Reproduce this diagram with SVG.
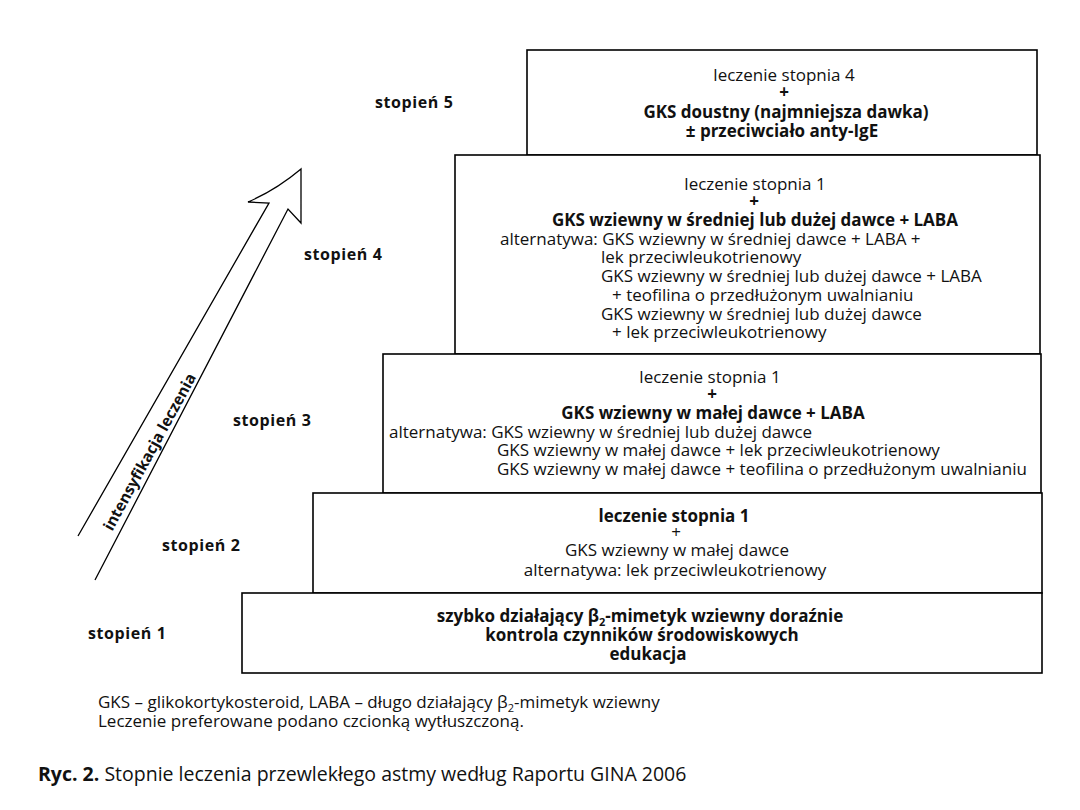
<svg xmlns="http://www.w3.org/2000/svg" width="1080" height="810" viewBox="0 0 1080 810">
<style>
text{font-family:"Open Sans","Noto Sans","DejaVu Sans",sans-serif;font-size:17px;fill:#111}
.b{font-weight:700}
.c{text-anchor:middle}
.lbl{font-weight:700;font-size:16px;letter-spacing:0.6px}
.box{fill:#fff;stroke:#000;stroke-width:1.6}
.arrow{fill:none;stroke:#000;stroke-width:1.3;stroke-linejoin:miter}
.sub{font-size:11px}
</style>
<rect width="1080" height="810" fill="#fff"/>

<g id="connectors">
  <path class="arrow" d="M78,536 L269,203 L248,202 Q276,190 301,169 L301,223 L288,209 L95,580"/>
  <text class="b" transform="translate(150,452) rotate(-61.4)" text-anchor="middle" dy="5" style="font-size:15.5px">intensyfikacja leczenia</text>
</g>

<g id="step5">
  <rect class="box" x="527" y="50" width="510" height="105"/>
  <text class="c" x="784" y="81">leczenie stopnia 4</text>
  <text class="c b" x="784" y="98">+</text>
  <text class="c b" x="786" y="118">GKS doustny (najmniejsza dawka)</text>
  <text class="c b" x="782" y="137">± przeciwciało anty-IgE</text>
  <text class="lbl" x="375" y="108">stopień 5</text>
</g>

<g id="step4">
  <rect class="box" x="455" y="155" width="585" height="199"/>
  <text class="c" x="755" y="190">leczenie stopnia 1</text>
  <text class="c b" x="754" y="207">+</text>
  <text class="c b" x="755" y="226">GKS wziewny w średniej lub dużej dawce + LABA</text>
  <text x="500" y="245">alternatywa: GKS wziewny w średniej dawce + LABA +</text>
  <text x="601" y="263">lek przeciwleukotrienowy</text>
  <text x="601" y="282">GKS wziewny w średniej lub dużej dawce + LABA</text>
  <text x="612" y="301">+ teofilina o przedłużonym uwalnianiu</text>
  <text x="601" y="320">GKS wziewny w średniej lub dużej dawce</text>
  <text x="612" y="338">+ lek przeciwleukotrienowy</text>
  <text class="lbl" x="304" y="260">stopień 4</text>
</g>

<g id="step3">
  <rect class="box" x="383" y="354" width="658" height="139"/>
  <text class="c" x="710" y="383">leczenie stopnia 1</text>
  <text class="c b" x="712" y="400">+</text>
  <text class="c b" x="713" y="419">GKS wziewny w małej dawce + LABA</text>
  <text x="389" y="438">alternatywa: GKS wziewny w średniej lub dużej dawce</text>
  <text x="497" y="456">GKS wziewny w małej dawce + lek przeciwleukotrienowy</text>
  <text x="497" y="475">GKS wziewny w małej dawce + teofilina o przedłużonym uwalnianiu</text>
  <text class="lbl" x="233" y="426">stopień 3</text>
</g>

<g id="step2">
  <rect class="box" x="313" y="493" width="729" height="100"/>
  <text class="c b" x="674" y="522">leczenie stopnia 1</text>
  <text class="c" x="676" y="538">+</text>
  <text class="c" x="677" y="556">GKS wziewny w małej dawce</text>
  <text class="c" x="675" y="576">alternatywa: lek przeciwleukotrienowy</text>
  <text class="lbl" x="162" y="551">stopień 2</text>
</g>

<g id="step1">
  <rect class="box" x="242" y="593" width="800" height="80"/>
  <text class="c b" x="640" y="622">szybko działający β<tspan class="sub" dy="4">2</tspan><tspan dy="-4">-mimetyk wziewny doraźnie</tspan></text>
  <text class="c b" x="642" y="641">kontrola czynników środowiskowych</text>
  <text class="c b" x="648" y="660">edukacja</text>
  <text class="lbl" x="88" y="639">stopień 1</text>
</g>

<g id="notes">
  <text x="98" y="708">GKS – glikokortykosteroid, LABA – długo działający β<tspan class="sub" dy="4">2</tspan><tspan dy="-4">-mimetyk wziewny</tspan></text>
  <text x="98" y="727">Leczenie preferowane podano czcionką wytłuszczoną.</text>
  <text x="38" y="781" style="font-size:19.5px"><tspan class="b">Ryc. 2.</tspan> Stopnie leczenia przewlekłego astmy według Raportu GINA 2006</text>
</g>
</svg>
